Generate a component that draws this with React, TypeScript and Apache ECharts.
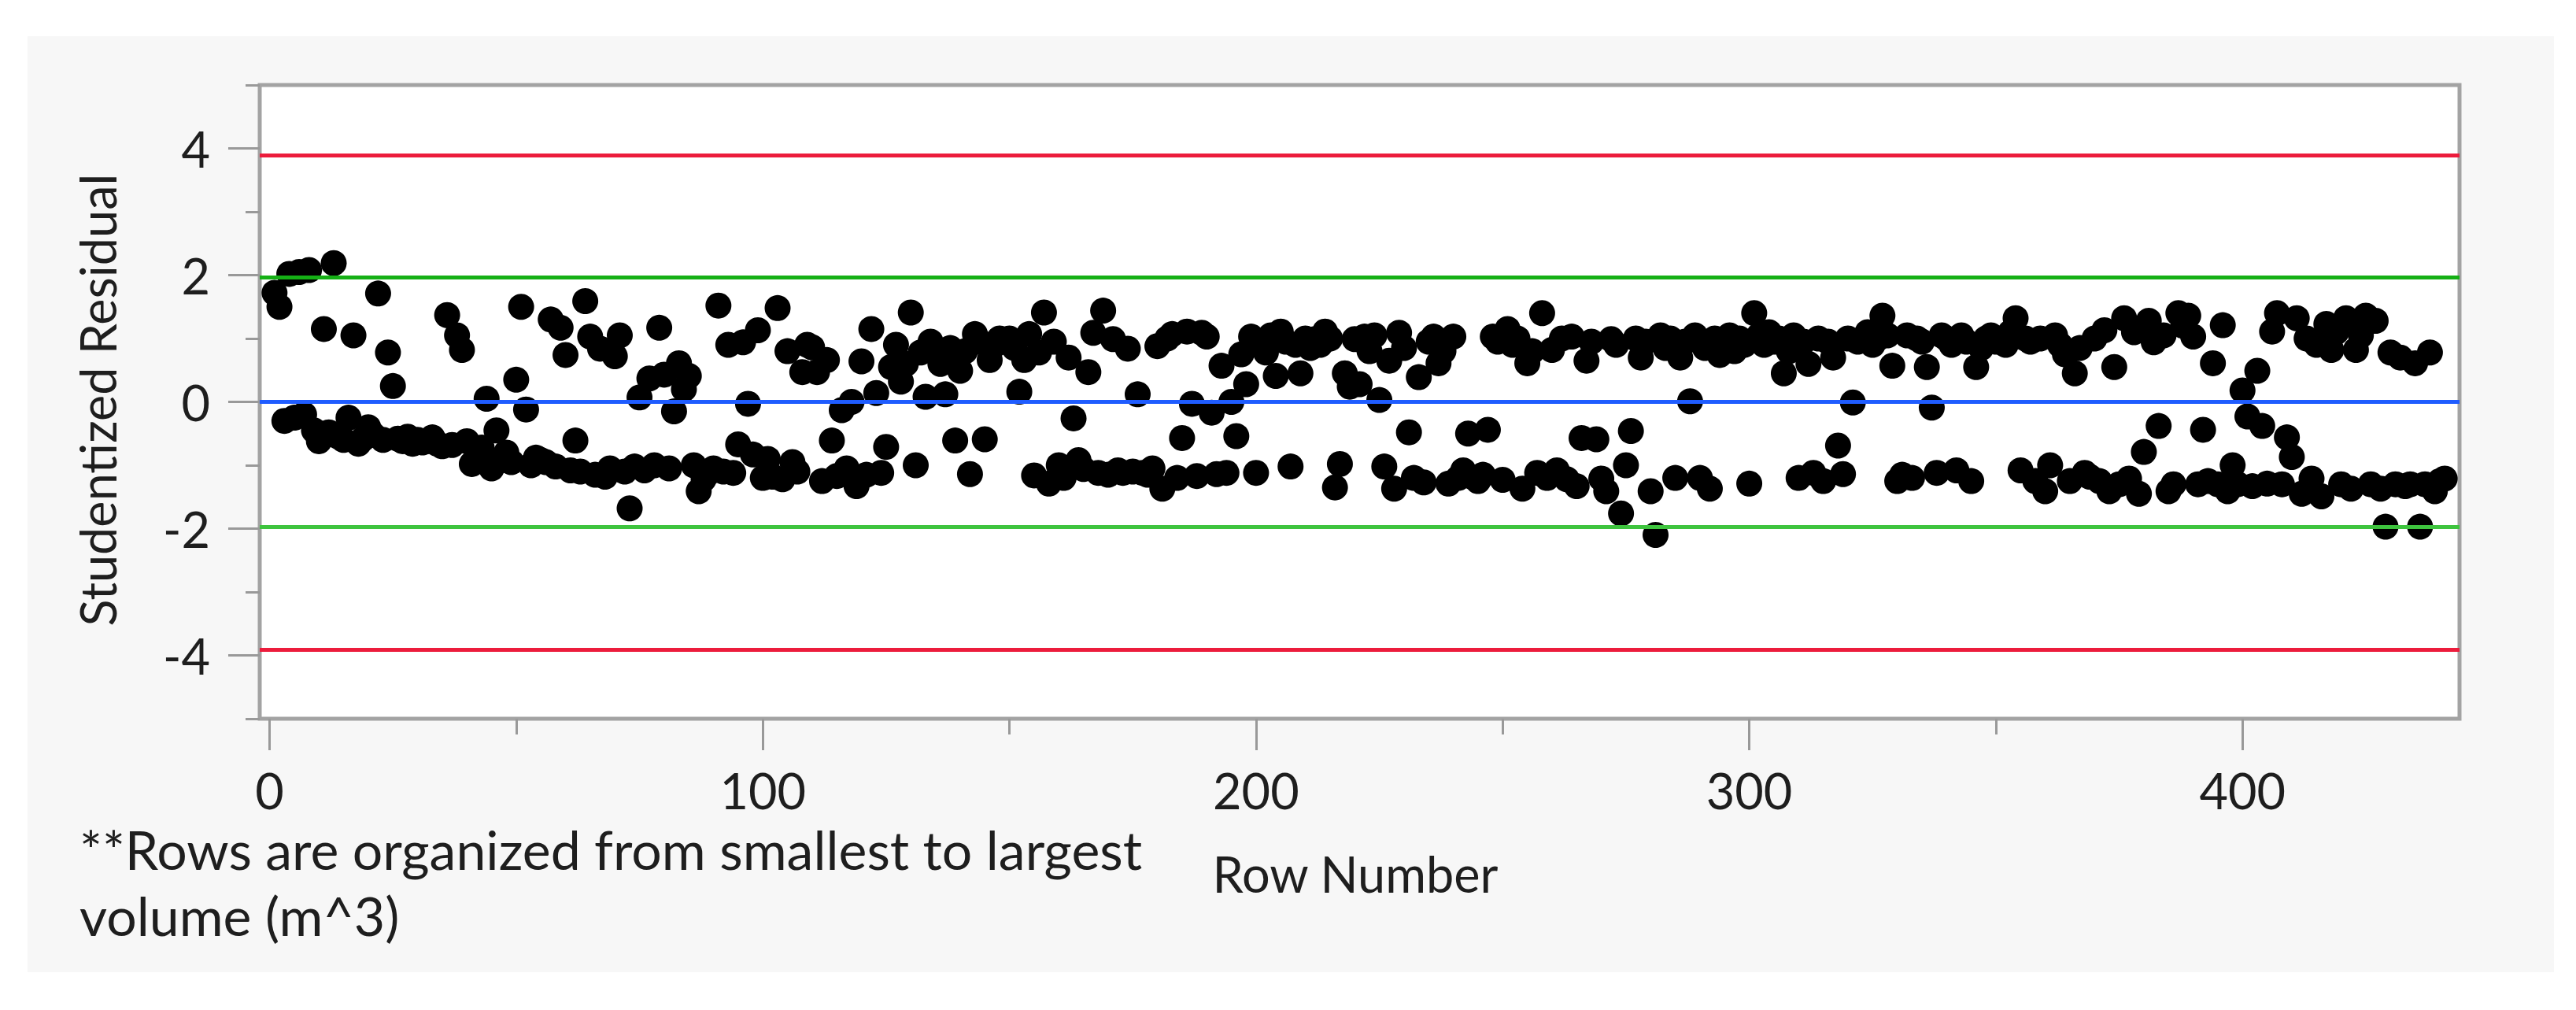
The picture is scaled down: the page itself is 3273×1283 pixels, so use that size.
import React, { useEffect, useRef } from "react";
import * as echarts from "echarts";

// Studentized residuals (rows 1..441)
const residRows1to52 = [
  1.72, 1.5, -0.3, 2.02, -0.25, 2.05, -0.2, 2.08, -0.45, -0.62,
  1.15, -0.48, 2.19, -0.55, -0.6, -0.25, 1.05, -0.66, -0.58, -0.4,
  -0.52, 1.71, -0.6, 0.78, 0.25, -0.58, -0.62, -0.55, -0.66, -0.6,
  -0.64, -0.62, -0.56, -0.66, -0.7, 1.37, -0.68, 1.05, 0.82, -0.62,
  -0.98, -0.75, -0.72, 0.05, -1.05, -0.45, -0.9, -0.8, -0.95, 0.35,
  1.5, -0.12,
];
const residRows53to108 = [
  -1.0, -0.88, -0.92, -0.95, 1.3, -1.02, 1.17, 0.74, -1.08, -0.61,
  -1.1, 1.59, 1.03, -1.15, 0.84, -1.18, -1.05, 0.72, 1.05, -1.1,
  -1.68, -1.02, 0.07, -1.08, 0.37, -1.0, 1.17, 0.43, -1.05, -0.15,
  0.61, 0.2, 0.41, -1.0, -1.41, -1.22, -1.12, -1.05, 1.52, -1.1,
  0.9, -1.12, -0.67, 0.94, -0.03, -0.83, 1.13, -1.2, -0.9, -1.18,
  1.48, -1.22, 0.8, -0.95, -1.1, 0.47,
];
const residRows109to164 = [
  0.9, 0.86, 0.47, -1.25, 0.66, -0.61, -1.17, -0.13, -1.05, 0.0,
  -1.33, 0.64, -1.15, 1.15, 0.14, -1.12, -0.71, 0.55, 0.9, 0.32,
  0.6, 1.41, -1.0, 0.78, 0.08, 0.95, 0.84, 0.6, 0.12, 0.85,
  -0.61, 0.49, 0.8, -1.14, 1.07, 0.95, -0.59, 0.66, 0.9, 1.0,
  0.95, 1.0, 0.85, 0.16, 0.66, 1.07, -1.16, 0.78, 1.41, -1.29,
  0.95, -1.0, -1.2, 0.7, -0.26, -0.92,
];
const residRows165to220 = [
  -1.06, 0.47, 1.09, -1.12, 1.44, -1.15, 0.99, -1.08, -1.12, 0.84,
  -1.1, 0.12, -1.12, -1.15, -1.05, 0.88, -1.37, 1.0, 1.07, -1.2,
  -0.57, 1.11, -0.03, -1.17, 1.09, 1.03, -0.17, -1.14, 0.57, -1.12,
  0.0, -0.54, 0.75, 0.28, 1.03, -1.12, 0.95, 0.78, 1.05, 0.41,
  1.11, 0.95, -1.02, 0.9, 0.45, 1.0, 0.85, 0.99, 0.9, 1.11,
  1.0, -1.35, -0.98, 0.45, 0.24, 0.99,
];
const residRows221to276 = [
  0.28, 1.03, 0.8, 1.05, 0.03, -1.02, 0.65, -1.37, 1.09, 0.85,
  -0.48, -1.2, 0.39, -1.27, 0.95, 1.03, 0.61, 0.8, -1.29, 1.03,
  -1.2, -1.08, -0.5, -1.19, -1.25, -1.15, -0.44, 1.03, 0.95, -1.23,
  1.15, 0.9, 1.0, -1.37, 0.61, 0.8, -1.12, 1.4, -1.2, 0.82,
  -1.08, 1.0, -1.22, 1.03, -1.33, -0.57, 0.65, 0.95, -0.59, -1.21,
  -1.41, 0.99, 0.9, -1.76, -1.0, -0.46,
];
const residRows277to332 = [
  1.0, 0.7, 0.95, -1.41, -2.1, 1.05, 0.85, 1.0, -1.2, 0.7,
  0.95, 0.01, 1.05, -1.2, 0.85, -1.37, 1.0, 0.74, 0.95, 1.05,
  0.8, 1.0, 0.9, -1.29, 1.4, 1.05, 0.9, 1.1, 0.95, 1.0,
  0.45, 0.8, 1.05, -1.2, 0.95, 0.6, -1.12, 1.0, -1.25, 0.95,
  0.7, -0.69, -1.14, 1.0, -0.01, 0.95, 1.0, 1.1, 0.9, 1.0,
  1.36, 1.05, 0.57, -1.25, -1.15, 1.05,
];
const residRows333to388 = [
  -1.2, 1.0, 0.95, 0.55, -0.09, -1.12, 1.05, 1.0, 0.9, -1.08,
  1.05, 0.95, -1.25, 0.55, 0.85, 1.0, 1.05, 0.95, 1.0, 0.9,
  1.1, 1.32, -1.08, 1.0, 0.95, -1.25, 1.0, -1.41, -1.0, 1.05,
  0.9, 0.75, -1.25, 0.45, 0.85, -1.12, -1.18, 1.0, -1.25, 1.13,
  -1.41, 0.55, -1.3, 1.32, -1.21, 1.1, -1.45, -0.79, 1.28, 0.94,
  -0.38, 1.05, -1.41, -1.3, 1.4, 1.2,
];
const residRows389to441 = [
  1.36, 1.03, -1.3, -0.44, -1.25, 0.61, -1.3, 1.21, -1.41, -1.0,
  -1.3, 0.18, -0.23, -1.33, 0.49, -0.38, -1.29, 1.11, 1.4, -1.3,
  -0.56, -0.87, 1.32, -1.45, 1.0, -1.21, 0.9, -1.49, 1.23, 0.82,
  1.1, -1.3, 1.32, -1.37, 0.82, 1.05, 1.36, -1.3, 1.28, -1.37,
  -1.97, 0.78, -1.3, 0.7, -1.33, -1.3, 0.61, -1.97, -1.3, 0.78,
  -1.41, -1.25, -1.21,
];

const residuals = [
  ...residRows1to52,
  ...residRows53to108,
  ...residRows109to164,
  ...residRows165to220,
  ...residRows221to276,
  ...residRows277to332,
  ...residRows333to388,
  ...residRows389to441,
];

const xMajorTicks = [0, 100, 200, 300, 400];
const xMinorTicks = [50, 150, 250, 350];
const yMajorTicks = [-4, -2, 0, 2, 4];
const yMinorTicks = [-5, -3, -1, 1, 3, 5];

const refLineValues = [3.89, -3.91, 1.97, -1.97, 0];
const refLineColors = ["#ec1c3c", "#ec1c3c", "#15b015", "#3ec43e", "#1f5cff"];

const FONT = "Lato, 'Open Sans', sans-serif";
const TEXT_COLOR = "#1e1e1e";
const TICK_STYLE = { color: "#999999", width: 3 };

export default function App() {
  const ref = useRef<HTMLDivElement>(null);

  useEffect(() => {
    if (!ref.current) return;
    const chart = echarts.init(ref.current, null, { renderer: "svg" });

    const scatterData = residuals.map((v, i) => [i + 1, v]);

    const baseAxis = {
      type: "value",
      offset: 0,
      splitLine: { show: false },
      axisLine: { show: false, onZero: false },
    };

    const option: any = {
      animation: false,
      grid: {
        left: 330,
        top: 108,
        width: 2795,
        height: 805,
        show: true,
        backgroundColor: "#ffffff",
        borderColor: "#a3a3a3",
        borderWidth: 5,
      },
      xAxis: [
        {
          ...baseAxis,
          min: -2,
          max: 444,
          position: "bottom",
          axisTick: { show: true, customValues: xMajorTicks, length: 40, lineStyle: TICK_STYLE },
          axisLabel: {
            show: true,
            customValues: xMajorTicks,
            margin: 90,
            verticalAlign: "middle",
            fontSize: 63,
            fontFamily: FONT,
            color: TEXT_COLOR,
          },
        },
        {
          ...baseAxis,
          min: -2,
          max: 444,
          position: "bottom",
          axisLabel: { show: false },
          axisTick: { show: true, customValues: xMinorTicks, length: 20, lineStyle: TICK_STYLE },
        },
      ],
      yAxis: [
        {
          ...baseAxis,
          min: -5,
          max: 5,
          position: "left",
          axisTick: { show: true, customValues: yMajorTicks, length: 40, lineStyle: TICK_STYLE },
          axisLabel: {
            show: true,
            customValues: yMajorTicks,
            margin: 63,
            align: "right",
            verticalAlign: "middle",
            fontSize: 63,
            fontFamily: FONT,
            color: TEXT_COLOR,
          },
        },
        {
          ...baseAxis,
          min: -5,
          max: 5,
          position: "left",
          axisLabel: { show: false },
          axisTick: { show: true, customValues: yMinorTicks, length: 18, lineStyle: TICK_STYLE },
        },
      ],
      series: [
        {
          type: "scatter",
          xAxisIndex: 0,
          yAxisIndex: 0,
          data: [],
          z: 1,
          silent: true,
          markLine: {
            silent: true,
            symbol: ["none", "none"],
            label: { show: false },
            emphasis: { disabled: true },
            data: refLineValues.map((v, i) => ({
              yAxis: v,
              lineStyle: { color: refLineColors[i], width: 5, type: "solid" },
            })),
          },
        },
        {
          type: "scatter",
          xAxisIndex: 0,
          yAxisIndex: 0,
          data: scatterData,
          symbol: "circle",
          symbolSize: 33,
          z: 3,
          silent: true,
          itemStyle: { color: "#000000", opacity: 1 },
        },
      ],
      graphic: [
        {
          type: "text",
          x: 123,
          y: 508,
          rotation: Math.PI / 2,
          style: {
            text: "Studentized Residual",
            fontSize: 63,
            fontFamily: FONT,
            fill: TEXT_COLOR,
            align: "center",
            verticalAlign: "middle",
          },
        },
        {
          type: "text",
          x: 1722,
          y: 1109,
          style: {
            text: "Row Number",
            fontSize: 63,
            fontFamily: FONT,
            fill: TEXT_COLOR,
            align: "center",
            verticalAlign: "middle",
          },
        },
        {
          type: "text",
          x: 101,
          y: 1078,
          style: {
            text: "**Rows are organized from smallest to largest",
            fontSize: 68,
            fontFamily: FONT,
            fill: TEXT_COLOR,
            align: "left",
            verticalAlign: "middle",
          },
        },
        {
          type: "text",
          x: 101,
          y: 1162,
          style: {
            text: "volume (m^3)",
            fontSize: 68,
            fontFamily: FONT,
            fill: TEXT_COLOR,
            align: "left",
            verticalAlign: "middle",
          },
        },
      ],
    };

    chart.setOption(option);
    return () => chart.dispose();
  }, []);

  return (
    <div style={{ position: "fixed", left: 0, top: 0, width: 3273, height: 1283, background: "#ffffff" }}>
      <div style={{ position: "absolute", left: 35, top: 46, width: 3210, height: 1189, background: "#f7f7f7" }} />
      <div ref={ref} style={{ position: "absolute", left: 0, top: 0, width: 3273, height: 1283 }} />
    </div>
  );
}
